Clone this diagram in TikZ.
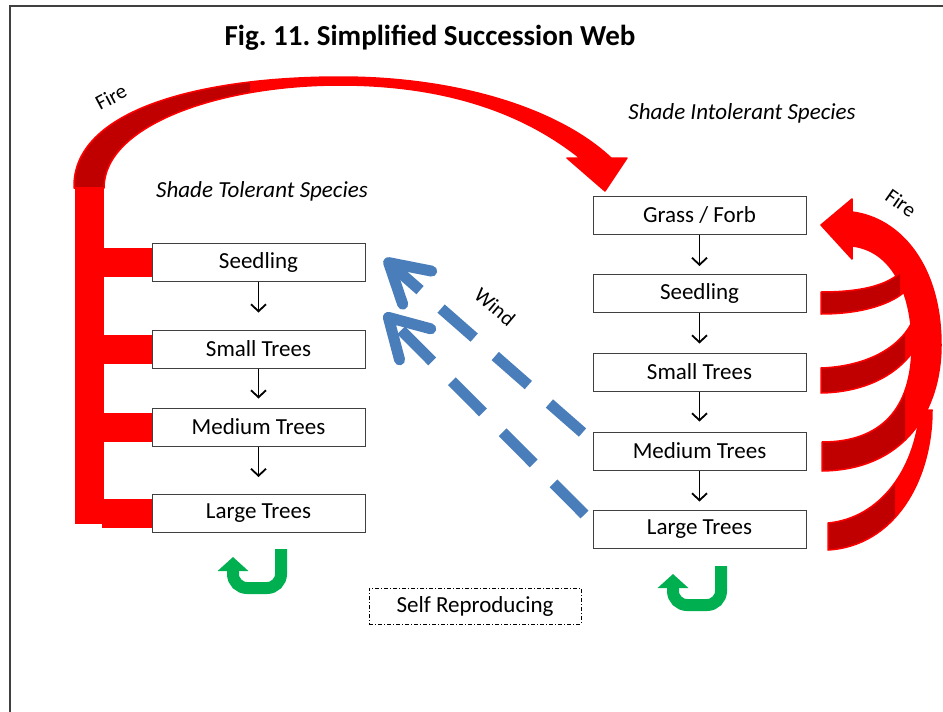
\documentclass[tikz,border=0pt]{standalone}
\usepackage{fontspec}
\setmainfont{Carlito}
\usetikzlibrary{arrows.meta,calc}
\definecolor{fire}{HTML}{FF0000}
\definecolor{firedark}{HTML}{C00000}
\definecolor{windblue}{HTML}{4A7EBB}
\definecolor{grow}{HTML}{00B050}
\definecolor{framegray}{HTML}{404040}
\frenchspacing
\newcommand\FireArcLeft{(74,188) .. controls (72,110) and (200,77) .. (340,77) .. controls (460,77) and (560,110) .. (611,158) -- (627,158) -- (605,191) -- (567,158) -- (580,158) .. controls (520,110) and (440,85) .. (340,85) .. controls (220,85) and (104,125) .. (104,188) -- cycle}
\newcommand\FireRibA{(822,471) .. controls (905,470) and (941,410) .. (941,345) .. controls (941,265) and (900,218) .. (852,212) -- (852,199) -- (821,225) -- (852,259) -- (852,246) .. controls (890,250) and (912,290) .. (912,345) .. controls (912,410) and (880,442) .. (822,442) -- cycle}
\newcommand\FireRibB{(821,292) .. controls (862,292) and (895,285) .. (907,264) -- (916,278) .. controls (905,300) and (870,314) .. (821,314) -- cycle}
\newcommand\FireRibC{(821,368) .. controls (875,366) and (915,340) .. (918,300) -- (929,300) .. controls (929,355) and (885,392) .. (821,393) -- cycle}
\newcommand\FireRibD{(828,523) .. controls (880,518) and (915,470) .. (920,410) -- (932,410) .. controls (932,480) and (895,546) .. (828,550) -- cycle}
\begin{document}
\begin{tikzpicture}[x=1pt,y=-1pt,
  box/.style={draw=framegray, line width=1pt, fill=white, minimum width=213pt, minimum height=38pt, inner sep=0pt, font=\fontsize{23}{27}\selectfont},
  flow/.style={draw=black, line width=1.8pt, -{Straight Barb[length=7pt,width=15pt]}},
  heading/.style={font=\itshape\fontsize{23}{27}\selectfont},
  smalllabel/.style={font=\fontsize{21}{25}\selectfont},
  windarrow/.style={draw=windblue, line width=11pt, dash pattern=on 44pt off 28pt, -{Straight Barb[length=38pt,width=44pt,round]}},
  growarrow/.style={draw=grow, line width=12pt, rounded corners=14pt, -{Triangle[length=14pt,width=30pt]}},
  fireline/.style={draw=fire, line width=1.5pt, line join=round}]
\useasboundingbox (0,0) rectangle (943,712);
\draw[framegray, line width=1.8pt] (10,712) -- (10,6) -- (943,6);

% title and headings
\node[font=\bfseries\fontsize{29}{34}\selectfont] (title) at (430,38) {Fig. 11. Simplified Succession Web};
\node[heading] (hint) at (742,113) {Shade Intolerant Species};
\node[heading] (htol) at (262,191) {Shade Tolerant Species};

% left fire arc
\fill[fire] \FireArcLeft;
\begin{scope}
  \clip (60,60) rectangle (250,188);
  \fill[firedark] \FireArcLeft;
\end{scope}
\draw[fireline] \FireArcLeft;
\fill[fire] (74.5,187) rectangle (103.5,523.5);

% left boxes
\node[box] (l1) at (258.5,262) {Seedling};
\node[box] (l2) at (258.5,349) {Small Trees};
\node[box] (l3) at (258.5,427) {Medium Trees};
\node[box] (l4) at (258.5,513.5) {Large Trees};
\foreach \n in {l1,l2,l3,l4}{
  \fill[fire] ($(\n.west)+(-50,-14.5)$) rectangle ($(\n.west)+(0,14.5)$);
}
\draw[flow, shorten >=17pt] (l1.south) -- (l2.north);
\draw[flow, shorten >=9pt] (l2.south) -- (l3.north);
\draw[flow, shorten >=17pt] (l3.south) -- (l4.north);

% right boxes
\node[box] (r1) at (699.5,215) {Grass / Forb};
\node[box] (r2) at (699.5,293.5) {Seedling};
\node[box] (r3) at (699.5,372) {Small Trees};
\node[box] (r4) at (699.5,451) {Medium Trees};
\node[box] (r5) at (699.5,529) {Large Trees};
\draw[flow, shorten >=8pt] (r1.south) -- (r2.north);
\draw[flow, shorten >=9pt] (r2.south) -- (r3.north);
\draw[flow, shorten >=10pt] (r3.south) -- (r4.north);
\draw[flow, shorten >=8pt] (r4.south) -- (r5.north);

% right fire ribbons
\fill[fire] \FireRibD;
\begin{scope}\clip (800,250) rectangle (895,560); \fill[firedark] \FireRibD;\end{scope}
\draw[fireline] \FireRibD;
\fill[fire] \FireRibA;
\begin{scope}\clip (800,285) rectangle (905,560); \fill[firedark] \FireRibA;\end{scope}
\draw[fireline] \FireRibA;
\fill[fire] \FireRibC;
\begin{scope}\clip (800,250) rectangle (905,560); \fill[firedark] \FireRibC;\end{scope}
\draw[fireline] \FireRibC;
\fill[fire] \FireRibB;
\begin{scope}\clip (800,250) rectangle (900,560); \fill[firedark] \FireRibB;\end{scope}
\draw[fireline] \FireRibB;

% fire labels
\node[smalllabel, rotate=28] (fireL) at (111,97) {Fire};
\node[smalllabel, rotate=-35] (fireR) at (901,203) {Fire};

% wind arrows
\coordinate (w1s) at ($(r4.north west)+(-10,1)$);
\coordinate (w1e) at ($(l1.east)+(19,-3)$);
\coordinate (w2s) at ($(r5.north west)+(-8,5)$);
\coordinate (w2e) at ($(l1.south east)+(19,32)$);
\draw[windarrow] (w1s) -- (w1e);
\draw[windarrow] (w2s) -- (w2e);
\node[smalllabel, rotate=-40] (wind) at (495,307) {Wind};

% self reproducing
\draw[growarrow] (281,549) -- (281,588) -- (233,588) -- (233,557);
\draw[growarrow] (721,566) -- (721,605) -- (673,605) -- (673,574);
\node[draw=black, line width=0.8pt, dash pattern=on 4pt off 2pt on 1pt off 2pt, minimum width=212pt, minimum height=36pt, inner sep=0pt, font=\fontsize{23}{27}\selectfont] (self) at (475,606) {Self Reproducing};
\end{tikzpicture}
\end{document}
